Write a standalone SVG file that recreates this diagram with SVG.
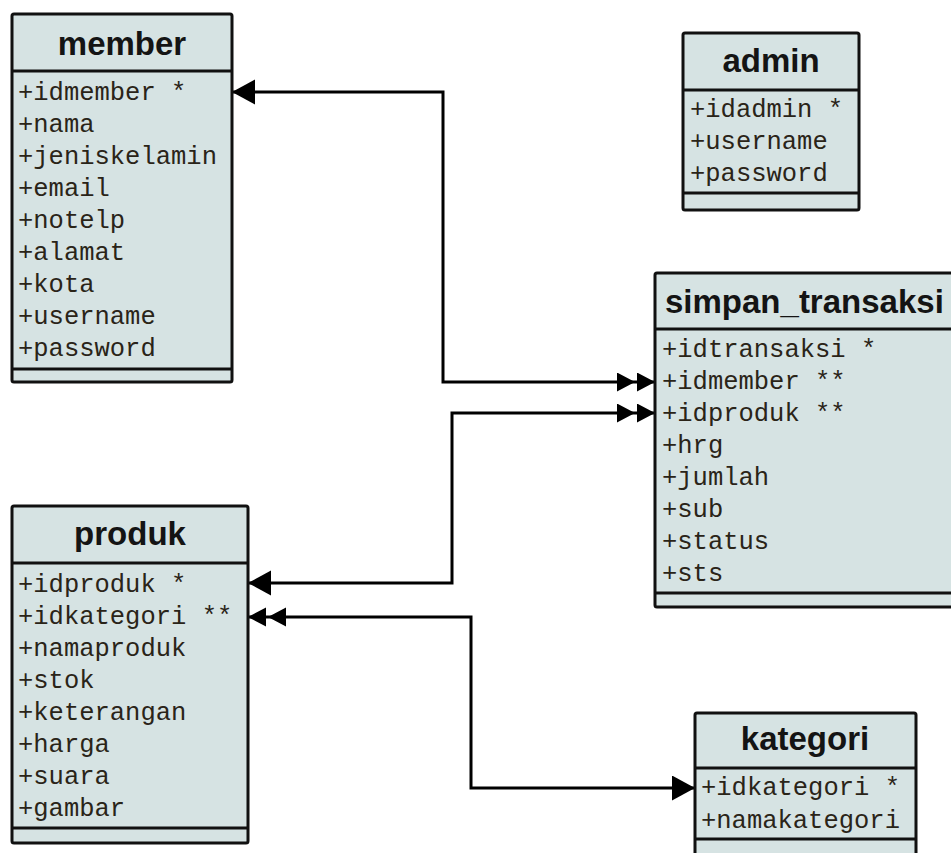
<svg xmlns="http://www.w3.org/2000/svg" width="951" height="853" viewBox="0 0 951 853">
<defs>
<style>
.box{fill:#d6e3e3;stroke:#111;stroke-width:3}
.sep{stroke:#111;stroke-width:3;fill:none}
.title{font-family:"Liberation Sans",Arial,sans-serif;font-weight:bold;font-size:33px;fill:#141414}
.attr{font-family:"Liberation Mono","Courier New",monospace;font-size:25.5px;fill:#2a2418}
.conn{fill:none;stroke:#000;stroke-width:3}
</style>
<marker id="one" markerUnits="userSpaceOnUse" markerWidth="24" markerHeight="26" refX="23" refY="12.5" orient="auto-start-reverse" viewBox="0 0 24 26">
<path d="M0,0 L23,12.5 L0,25 Z" fill="#000"/>
</marker>
<marker id="two" markerUnits="userSpaceOnUse" markerWidth="39" markerHeight="20" refX="38" refY="9.5" orient="auto-start-reverse" viewBox="0 0 39 20">
<path d="M0,0 L18,9.5 L0,19 Z M20,0 L38,9.5 L20,19 Z" fill="#000"/>
</marker>
</defs>
<rect width="951" height="853" fill="#fff"/>

<g id="connectors">
<path class="conn" d="M232,92 H443 V382 H655" marker-start="url(#one)" marker-end="url(#two)"/>
<path class="conn" d="M248,583 H452 V413 H655" marker-start="url(#one)" marker-end="url(#two)"/>
<path class="conn" d="M248,617 H471 V788 H695" marker-start="url(#two)" marker-end="url(#one)"/>
</g>

<g id="member">
<rect class="box" x="12" y="14" width="220" height="368" rx="2"/>
<line class="sep" x1="12" y1="71" x2="232" y2="71"/>
<line class="sep" x1="12" y1="369" x2="232" y2="369"/>
<text class="title" x="122" y="55" text-anchor="middle">member</text>
<text class="attr" x="18" y="100">+idmember *</text>
<text class="attr" x="18" y="132">+nama</text>
<text class="attr" x="18" y="164">+jeniskelamin</text>
<text class="attr" x="18" y="196">+email</text>
<text class="attr" x="18" y="228">+notelp</text>
<text class="attr" x="18" y="260">+alamat</text>
<text class="attr" x="18" y="292">+kota</text>
<text class="attr" x="18" y="324">+username</text>
<text class="attr" x="18" y="356">+password</text>
</g>

<g id="admin">
<rect class="box" x="683" y="33" width="176" height="177" rx="2"/>
<line class="sep" x1="683" y1="90" x2="859" y2="90"/>
<line class="sep" x1="683" y1="193" x2="859" y2="193"/>
<text class="title" x="771" y="72" text-anchor="middle">admin</text>
<text class="attr" x="690" y="117">+idadmin *</text>
<text class="attr" x="690" y="149">+username</text>
<text class="attr" x="690" y="181">+password</text>
</g>

<g id="simpan_transaksi">
<rect class="box" x="655" y="273" width="310" height="334" rx="2"/>
<line class="sep" x1="655" y1="329" x2="965" y2="329"/>
<line class="sep" x1="655" y1="593" x2="965" y2="593"/>
<text class="title" x="665" y="313">simpan_transaksi</text>
<text class="attr" x="662" y="357">+idtransaksi *</text>
<text class="attr" x="662" y="389">+idmember **</text>
<text class="attr" x="662" y="421">+idproduk **</text>
<text class="attr" x="662" y="453">+hrg</text>
<text class="attr" x="662" y="485">+jumlah</text>
<text class="attr" x="662" y="517">+sub</text>
<text class="attr" x="662" y="549">+status</text>
<text class="attr" x="662" y="581">+sts</text>
</g>

<g id="produk">
<rect class="box" x="12" y="506" width="236" height="337" rx="2"/>
<line class="sep" x1="12" y1="563" x2="248" y2="563"/>
<line class="sep" x1="12" y1="828" x2="248" y2="828"/>
<text class="title" x="130" y="545" text-anchor="middle">produk</text>
<text class="attr" x="18" y="592">+idproduk *</text>
<text class="attr" x="18" y="624">+idkategori **</text>
<text class="attr" x="18" y="656">+namaproduk</text>
<text class="attr" x="18" y="688">+stok</text>
<text class="attr" x="18" y="720">+keterangan</text>
<text class="attr" x="18" y="752">+harga</text>
<text class="attr" x="18" y="784">+suara</text>
<text class="attr" x="18" y="816">+gambar</text>
</g>

<g id="kategori">
<rect class="box" x="695" y="713" width="221" height="160" rx="2"/>
<line class="sep" x1="695" y1="768" x2="916" y2="768"/>
<line class="sep" x1="695" y1="839" x2="916" y2="839"/>
<text class="title" x="805" y="750" text-anchor="middle">kategori</text>
<text class="attr" x="701" y="795">+idkategori *</text>
<text class="attr" x="701" y="828">+namakategori</text>
</g>
</svg>
